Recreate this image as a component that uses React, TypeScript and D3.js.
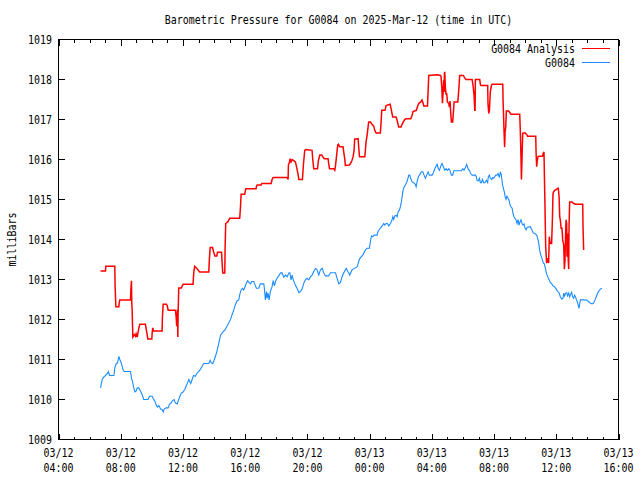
import React from 'react';
import * as d3 from 'd3';

const title = 'Barometric Pressure for G0084 on 2025-Mar-12 (time in UTC)';
const yLabel = 'milliBars';
const seriesNames = ['G0084 Analysis', 'G0084'];
const seriesColors = ['#ff0000', '#1a8cff'];
const yTicks = [1009, 1010, 1011, 1012, 1013, 1014, 1015, 1016, 1017, 1018, 1019];

// hours since 2025-03-12 00:00 UTC
const analysisHours = [
  6.70, 7.02, 7.04, 7.62, 7.64, 7.69, 7.88, 7.90, 7.94, 8.63, 8.65, 8.69, 8.71, 8.73, 8.78, 8.88, 8.95, 8.99, 9.06, 9.16,
  9.23, 9.59, 9.63, 9.70, 9.74, 10.00, 10.02, 10.06, 10.11, 10.66, 10.68, 10.73, 10.94, 11.00, 11.05, 11.52, 11.56, 11.60, 11.65, 11.67,
  11.69, 11.73, 11.90, 12.01, 12.65, 12.70, 12.76, 12.91, 13.08, 13.66, 13.70, 13.75, 13.90, 13.98, 14.05, 14.18, 14.22, 14.48, 14.52, 14.56,
  14.69, 14.71, 14.75, 14.88, 15.01, 15.65, 15.70, 15.74, 15.97, 16.04, 16.70, 16.72, 16.77, 17.02, 17.07, 17.67, 17.73, 17.80, 18.70, 18.76,
  18.78, 18.85, 18.89, 18.95, 19.02, 19.10, 19.23, 19.30, 19.40, 19.45, 19.68, 19.75, 19.83, 19.90, 20.30, 20.35, 20.41, 20.65, 20.71, 20.80,
  20.92, 20.99, 21.09, 21.33, 21.37, 21.42, 21.69, 21.76, 21.80, 21.87, 21.95, 21.99, 22.08, 22.29, 22.34, 22.40, 22.44, 22.70, 22.77, 22.87,
  22.94, 23.00, 23.04, 23.26, 23.30, 23.35, 23.69, 23.73, 23.77, 23.84, 23.90, 23.94, 24.05, 24.12, 24.27, 24.33, 24.42, 24.69, 24.74, 24.78,
  24.99, 25.06, 25.32, 25.38, 25.44, 25.49, 25.70, 25.77, 25.83, 25.87, 26.02, 26.09, 26.17, 26.26, 26.34, 26.64, 26.73, 26.79, 27.01, 27.07,
  27.16, 27.29, 27.37, 27.44, 27.48, 27.72, 27.76, 27.80, 28.36, 28.55, 28.59, 28.64, 28.66, 28.68, 28.72, 28.76, 28.79, 28.81, 28.83, 28.87,
  28.91, 28.96, 29.00, 29.09, 29.13, 29.17, 29.21, 29.26, 29.34, 29.39, 29.43, 29.67, 29.73, 29.79, 30.03, 30.11, 30.20, 30.59, 30.65, 30.71,
  30.76, 30.78, 30.80, 31.08, 31.12, 31.16, 31.59, 31.61, 31.66, 31.70, 31.76, 31.83, 31.87, 32.56, 32.58, 32.64, 32.68, 32.71, 32.75, 32.79,
  32.94, 33.05, 33.09, 33.65, 33.69, 33.73, 33.76, 33.80, 33.84, 33.86, 34.01, 34.12, 34.16, 34.68, 34.70, 34.74, 34.78, 34.83, 34.87, 35.11,
  35.17, 35.21, 35.26, 35.32, 35.38, 35.47, 35.51, 35.55, 35.60, 35.64, 35.70, 35.75, 35.79, 35.83, 35.90, 36.00, 36.09, 36.13, 36.18, 36.22,
  36.26, 36.31, 36.37, 36.41, 36.48, 36.52, 36.56, 36.60, 36.63, 36.67, 36.69, 36.73, 36.76, 36.80, 36.82, 36.86, 37.01, 37.12, 37.23, 37.70,
  37.72, 37.76,
];
const analysisValues = [
  1013.21, 1013.21, 1013.33, 1013.33, 1012.82, 1012.32, 1012.32, 1012.41, 1012.49, 1012.49, 1012.74, 1012.97, 1012.41, 1012.28, 1011.56, 1011.62, 1011.58, 1011.64, 1011.56, 1011.78,
  1011.88, 1011.88, 1011.78, 1011.62, 1011.51, 1011.51, 1011.66, 1011.79, 1011.71, 1011.71, 1012.06, 1012.38, 1012.38, 1012.33, 1012.23, 1012.23, 1012.08, 1011.83, 1012.24, 1011.56,
  1012.16, 1012.79, 1012.79, 1012.88, 1012.88, 1013.20, 1013.33, 1013.27, 1013.19, 1013.19, 1013.51, 1013.80, 1013.80, 1013.68, 1013.59, 1013.59, 1013.68, 1013.68, 1013.41, 1013.16,
  1013.16, 1013.78, 1014.40, 1014.44, 1014.53, 1014.53, 1014.82, 1015.13, 1015.13, 1015.27, 1015.27, 1015.32, 1015.36, 1015.36, 1015.40, 1015.40, 1015.50, 1015.55, 1015.55, 1015.50,
  1015.86, 1015.94, 1016.02, 1015.94, 1016.00, 1015.98, 1015.94, 1015.82, 1015.63, 1015.50, 1015.50, 1015.90, 1016.23, 1016.25, 1016.23, 1015.98, 1015.77, 1015.77, 1015.98, 1016.11,
  1016.11, 1016.07, 1016.02, 1016.02, 1015.90, 1015.77, 1015.77, 1015.73, 1015.82, 1016.07, 1016.36, 1016.38, 1016.32, 1016.32, 1016.18, 1016.02, 1015.85, 1015.86, 1015.90, 1015.98,
  1016.07, 1016.23, 1016.51, 1016.52, 1016.31, 1016.07, 1016.07, 1016.23, 1016.44, 1016.61, 1016.81, 1016.94, 1016.94, 1016.90, 1016.83, 1016.73, 1016.66, 1016.66, 1016.94, 1017.23,
  1017.23, 1017.35, 1017.38, 1017.27, 1017.15, 1017.06, 1017.06, 1016.98, 1016.87, 1016.81, 1016.81, 1016.88, 1016.94, 1017.00, 1017.02, 1017.02, 1017.10, 1017.20, 1017.23, 1017.31,
  1017.40, 1017.44, 1017.49, 1017.41, 1017.34, 1017.34, 1017.69, 1018.10, 1018.12, 1018.10, 1018.08, 1017.81, 1017.64, 1017.41, 1017.64, 1017.98, 1017.69, 1018.14, 1018.19, 1017.81,
  1017.64, 1017.64, 1017.44, 1017.40, 1017.31, 1017.46, 1017.19, 1016.94, 1016.94, 1017.19, 1017.44, 1017.44, 1017.73, 1018.10, 1018.10, 1018.04, 1018.00, 1018.00, 1017.85, 1017.63,
  1017.23, 1017.23, 1018.00, 1018.00, 1017.88, 1017.85, 1017.85, 1017.40, 1017.15, 1017.23, 1017.69, 1017.85, 1017.88, 1017.88, 1017.48, 1016.73, 1016.31, 1016.69, 1016.81, 1017.21,
  1017.21, 1017.15, 1017.13, 1017.13, 1016.69, 1016.07, 1015.50, 1016.07, 1016.63, 1016.66, 1016.66, 1016.61, 1016.58, 1016.58, 1016.19, 1015.82, 1015.98, 1016.07, 1016.08, 1016.08,
  1016.16, 1016.19, 1015.11, 1013.82, 1013.41, 1013.53, 1013.41, 1014.07, 1013.92, 1013.90, 1013.90, 1014.49, 1015.15, 1015.19, 1015.23, 1015.25, 1015.28, 1015.28, 1015.07, 1014.57,
  1014.49, 1014.28, 1014.28, 1013.99, 1013.86, 1013.26, 1013.49, 1014.15, 1014.49, 1014.40, 1013.57, 1014.15, 1013.57, 1013.26, 1014.32, 1014.94, 1014.94, 1014.90, 1014.88, 1014.88,
  1014.32, 1013.74,
];

const g0084Hours = [
  6.70, 6.76, 6.81, 6.91, 7.02, 7.15, 7.21, 7.28, 7.56, 7.62, 7.71, 7.79, 7.88, 7.96, 8.05, 8.13, 8.22, 8.63, 8.69, 8.78,
  8.84, 8.91, 8.99, 9.06, 9.16, 9.27, 9.38, 9.48, 9.76, 9.85, 10.02, 10.11, 10.19, 10.28, 10.36, 10.45, 10.56, 10.66, 10.73, 10.79,
  10.92, 11.05, 11.13, 11.22, 11.35, 11.43, 11.52, 11.63, 11.73, 11.82, 11.90, 11.99, 12.12, 12.20, 12.29, 12.38, 12.44, 12.50, 12.59, 12.68,
  12.80, 12.91, 13.02, 13.13, 13.23, 13.34, 13.66, 13.75, 13.83, 13.92, 14.00, 14.09, 14.18, 14.26, 14.35, 14.43, 14.52, 14.60, 14.69, 15.05,
  15.16, 15.27, 15.37, 15.48, 15.59, 15.65, 15.74, 15.82, 15.91, 15.99, 16.08, 16.17, 16.25, 16.34, 16.42, 16.55, 16.64, 16.72, 16.87, 16.98,
  17.20, 17.24, 17.30, 17.37, 17.41, 17.47, 17.54, 17.62, 17.73, 17.80, 17.88, 17.95, 18.05, 18.16, 18.27, 18.37, 18.48, 18.59, 18.70, 18.80,
  18.87, 18.95, 19.02, 19.08, 19.17, 19.25, 19.34, 19.45, 19.55, 19.66, 19.77, 19.87, 19.98, 20.09, 20.20, 20.30, 20.41, 20.52, 20.62, 20.73,
  20.84, 20.95, 21.05, 21.16, 21.37, 21.48, 21.80, 21.91, 22.02, 22.12, 22.23, 22.34, 22.44, 22.51, 22.59, 22.66, 22.72, 22.87, 23.20, 23.35,
  23.47, 23.56, 23.73, 23.84, 23.99, 24.05, 24.12, 24.20, 24.29, 24.48, 24.54, 24.63, 24.76, 24.84, 24.91, 24.97, 25.06, 25.14, 25.23, 25.34,
  25.44, 25.49, 25.55, 25.62, 25.70, 25.77, 25.83, 25.92, 25.98, 26.04, 26.09, 26.13, 26.19, 26.30, 26.37, 26.43, 26.52, 26.58, 26.64, 26.73,
  26.84, 26.94, 26.99, 27.05, 27.12, 27.20, 27.33, 27.42, 27.50, 27.59, 27.67, 27.76, 27.84, 28.02, 28.10, 28.19, 28.27, 28.34, 28.42, 28.49,
  28.57, 28.66, 28.74, 28.83, 28.92, 29.00, 29.09, 29.17, 29.26, 29.34, 29.41, 29.90, 29.99, 30.07, 30.16, 30.24, 30.33, 30.41, 30.50, 30.59,
  30.69, 30.80, 30.86, 30.91, 30.99, 31.06, 31.12, 31.19, 31.25, 31.33, 31.42, 31.51, 31.59, 31.63, 31.70, 31.76, 31.85, 31.91, 31.98, 32.04,
  32.11, 32.19, 32.26, 32.34, 32.41, 32.47, 32.53, 32.60, 32.66, 32.71, 32.77, 32.83, 32.90, 32.96, 33.03, 33.09, 33.16, 33.22, 33.28, 33.35,
  33.41, 33.48, 33.54, 33.61, 33.67, 33.73, 33.80, 33.86, 33.93, 33.99, 34.06, 34.12, 34.33, 34.42, 34.51, 34.59, 34.68, 34.76, 34.83, 34.89,
  34.93, 34.98, 35.04, 35.11, 35.17, 35.23, 35.30, 35.36, 35.43, 35.49, 35.55, 35.62, 35.71, 35.79, 35.88, 35.94, 36.00, 36.09, 36.18, 36.26,
  36.35, 36.43, 36.48, 36.54, 36.60, 36.67, 36.73, 36.80, 36.86, 36.93, 36.99, 37.05, 37.12, 37.18, 37.25, 37.29, 37.35, 37.42, 37.46, 37.50,
  37.55, 37.76, 37.98, 38.15, 38.30, 38.40, 38.49, 38.57, 38.66, 38.75, 38.83, 38.94,
];
const g0084Values = [
  1010.29, 1010.41, 1010.50, 1010.56, 1010.60, 1010.65, 1010.70, 1010.60, 1010.60, 1010.79, 1010.90, 1010.91, 1011.08, 1010.98, 1010.90, 1010.76, 1010.70, 1010.70, 1010.54, 1010.41,
  1010.29, 1010.19, 1010.21, 1010.29, 1010.29, 1010.21, 1010.12, 1010.00, 1010.00, 1010.08, 1010.08, 1010.01, 1009.96, 1009.86, 1009.81, 1009.85, 1009.76, 1009.75, 1009.69, 1009.76,
  1009.79, 1009.79, 1009.88, 1009.91, 1009.98, 1010.00, 1009.91, 1009.89, 1010.00, 1010.10, 1010.16, 1010.18, 1010.25, 1010.33, 1010.41, 1010.50, 1010.45, 1010.40, 1010.50, 1010.60,
  1010.58, 1010.66, 1010.70, 1010.76, 1010.83, 1010.90, 1010.90, 1010.98, 1010.91, 1010.90, 1010.98, 1011.08, 1011.20, 1011.33, 1011.49, 1011.62, 1011.66, 1011.71, 1011.73, 1011.99,
  1012.12, 1012.24, 1012.37, 1012.47, 1012.49, 1012.62, 1012.74, 1012.78, 1012.74, 1012.82, 1012.91, 1012.97, 1012.92, 1012.89, 1012.95, 1012.95, 1012.86, 1012.78, 1012.78, 1012.89,
  1012.89, 1012.76, 1012.49, 1012.70, 1012.53, 1012.66, 1012.49, 1012.70, 1012.82, 1012.97, 1012.84, 1012.95, 1013.03, 1013.09, 1013.16, 1013.17, 1013.06, 1013.11, 1013.07, 1013.16,
  1013.17, 1012.99, 1013.11, 1013.01, 1012.91, 1012.84, 1012.78, 1012.67, 1012.70, 1012.76, 1012.91, 1012.99, 1013.03, 1012.99, 1013.07, 1013.11, 1013.20, 1013.28, 1013.24, 1013.11,
  1013.24, 1013.28, 1013.17, 1013.09, 1013.09, 1013.17, 1013.17, 1013.03, 1012.89, 1012.92, 1013.07, 1013.17, 1013.24, 1013.28, 1013.20, 1013.17, 1013.11, 1013.24, 1013.32, 1013.51,
  1013.57, 1013.61, 1013.74, 1013.78, 1013.78, 1013.95, 1014.09, 1014.07, 1014.11, 1014.11, 1014.20, 1014.25, 1014.32, 1014.36, 1014.40, 1014.36, 1014.40, 1014.40, 1014.34, 1014.40,
  1014.49, 1014.57, 1014.50, 1014.59, 1014.60, 1014.57, 1014.69, 1014.74, 1014.82, 1014.94, 1015.07, 1015.19, 1015.29, 1015.36, 1015.42, 1015.48, 1015.61, 1015.61, 1015.53, 1015.44,
  1015.42, 1015.38, 1015.32, 1015.44, 1015.55, 1015.61, 1015.69, 1015.69, 1015.61, 1015.53, 1015.61, 1015.69, 1015.61, 1015.61, 1015.67, 1015.77, 1015.83, 1015.88, 1015.77, 1015.73,
  1015.83, 1015.90, 1015.82, 1015.73, 1015.77, 1015.73, 1015.77, 1015.72, 1015.61, 1015.61, 1015.72, 1015.72, 1015.77, 1015.73, 1015.80, 1015.88, 1015.77, 1015.73, 1015.65, 1015.61,
  1015.61, 1015.61, 1015.57, 1015.47, 1015.47, 1015.53, 1015.42, 1015.42, 1015.50, 1015.42, 1015.42, 1015.48, 1015.42, 1015.57, 1015.61, 1015.53, 1015.50, 1015.55, 1015.53, 1015.57,
  1015.61, 1015.61, 1015.65, 1015.55, 1015.69, 1015.61, 1015.40, 1015.28, 1015.19, 1015.07, 1015.00, 1015.08, 1015.03, 1014.99, 1014.86, 1014.82, 1014.78, 1014.65, 1014.57, 1014.53,
  1014.49, 1014.40, 1014.50, 1014.36, 1014.44, 1014.49, 1014.40, 1014.36, 1014.39, 1014.28, 1014.24, 1014.30, 1014.32, 1014.25, 1014.17, 1014.15, 1014.14, 1014.09, 1013.99, 1013.86,
  1013.74, 1013.65, 1013.57, 1013.49, 1013.41, 1013.39, 1013.28, 1013.16, 1013.09, 1013.03, 1012.99, 1012.92, 1012.89, 1012.84, 1012.82, 1012.79, 1012.76, 1012.70, 1012.67, 1012.57,
  1012.51, 1012.53, 1012.66, 1012.59, 1012.66, 1012.67, 1012.59, 1012.66, 1012.56, 1012.64, 1012.68, 1012.57, 1012.53, 1012.61, 1012.56, 1012.49, 1012.45, 1012.34, 1012.28, 1012.37,
  1012.49, 1012.49, 1012.48, 1012.42, 1012.39, 1012.41, 1012.49, 1012.57, 1012.66, 1012.72, 1012.76, 1012.78,
];

const W = 640;
const H = 480;
const PL = 58.5, PR = 618.5, PT = 39.5, PB = 439.5;
const FONT = 'DejaVu Sans Mono';
const SX = 0.83;

const toDate = (h: number) => new Date(Date.UTC(2025, 2, 12) + h * 3600000);

function MText(props: { x: number; y: number; anchor?: string; rotate?: number; children: string }) {
  const { x, y, anchor = 'start', rotate = 0, children } = props;
  return (
    <text
      transform={`translate(${x},${y}) rotate(${rotate}) scale(${SX},1)`}
      textAnchor={anchor}
      fontFamily={FONT}
      fontSize={12}
      fill="#000"
    >
      {children}
    </text>
  );
}

export default function App() {
  const x = d3.scaleUtc().domain([toDate(4), toDate(40)]).range([PL, PR]);
  const y = d3.scaleLinear().domain([1009, 1019]).range([PB, PT]);
  const line = d3
    .line<[Date, number]>()
    .x((d) => x(d[0]))
    .y((d) => y(d[1]));

  const analysis: [Date, number][] = analysisHours.map((h, i) => [toDate(h), analysisValues[i]]);
  const g0084: [Date, number][] = g0084Hours.map((h, i) => [toDate(h), g0084Values[i]]);

  const majorTicks = x.ticks(d3.utcHour.every(4)!);
  const minorTicks = x.ticks(d3.utcHour.every(1)!);
  const fmtDate = d3.utcFormat('%m/%d');
  const fmtTime = d3.utcFormat('%H:%M');
  const MAJ = 6, MIN = 3;

  return (
    <svg width={W} height={H} style={{ position: 'absolute', left: 0, top: 0, background: '#fff' }}>
      <rect x={0} y={0} width={W} height={H} fill="#fff" />
      <MText x={(PL + PR) / 2} y={23.5} anchor="middle">{title}</MText>
      <MText x={16} y={(PT + PB) / 2} anchor="middle" rotate={-90}>{yLabel}</MText>

      <g stroke="#000" strokeWidth={1} shapeRendering="crispEdges">
        {minorTicks.map((t, i) => {
          const xx = Math.round(x(t)) + 0.5;
          const len = majorTicks.some((m) => +m === +t) ? MAJ : MIN;
          return (
            <g key={'xt' + i}>
              <line x1={xx} x2={xx} y1={PB} y2={PB - len} />
              <line x1={xx} x2={xx} y1={PT} y2={PT + len} />
            </g>
          );
        })}
        {yTicks.map((v, i) => {
          const yy = Math.round(y(v) - 0.5) + 0.5;
          return (
            <g key={'yt' + i}>
              <line x1={PL} x2={PL + MAJ} y1={yy} y2={yy} />
              <line x1={PR} x2={PR - MAJ} y1={yy} y2={yy} />
            </g>
          );
        })}
      </g>

      {yTicks.map((v, i) => (
        <MText key={'yl' + i} x={52} y={y(v) + 4.5} anchor="end">{String(v)}</MText>
      ))}
      {majorTicks.map((t, i) => (
        <g key={'xl' + i}>
          <MText x={x(t)} y={456.5} anchor="middle">{fmtDate(t)}</MText>
          <MText x={x(t)} y={471.5} anchor="middle">{fmtTime(t)}</MText>
        </g>
      ))}

      <path d={line(analysis) || ''} fill="none" stroke={seriesColors[0]} strokeWidth={1.5} strokeLinejoin="miter" />
      <path d={line(g0084) || ''} fill="none" stroke={seriesColors[1]} strokeWidth={1.1} />

      <rect x={PL} y={PT} width={PR - PL} height={PB - PT} fill="none" stroke="#000" strokeWidth={1} shapeRendering="crispEdges" />

      <MText x={575} y={53} anchor="end">{seriesNames[0]}</MText>
      <line x1={582} x2={610} y1={48.5} y2={48.5} stroke={seriesColors[0]} strokeWidth={1} shapeRendering="crispEdges" />
      <MText x={575} y={67} anchor="end">{seriesNames[1]}</MText>
      <line x1={582} x2={610} y1={62.5} y2={62.5} stroke={seriesColors[1]} strokeWidth={1} shapeRendering="crispEdges" />
    </svg>
  );
}
